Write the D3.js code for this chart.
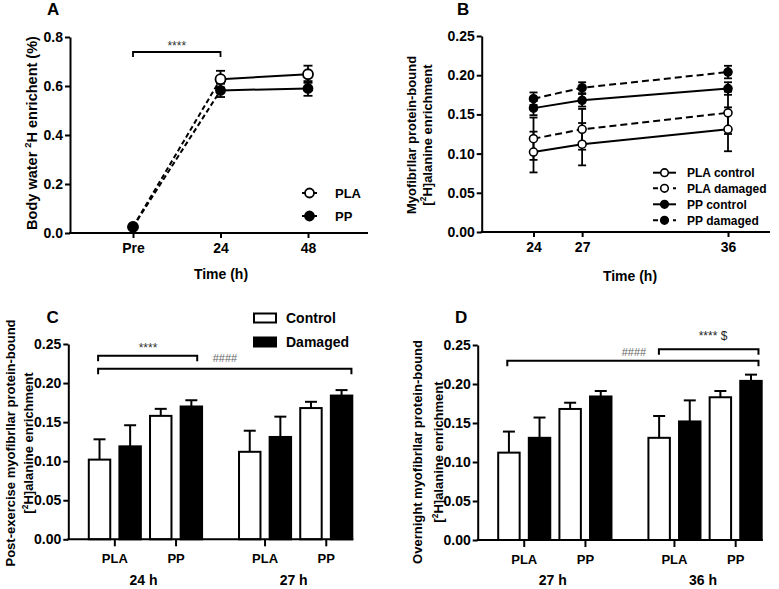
<!DOCTYPE html>
<html><head><meta charset="utf-8">
<script src="https://cdn.jsdelivr.net/npm/d3@7"></script>
<style>
body{margin:0;background:#fff;}
svg{display:block;font-family:"Liberation Sans",Arial,sans-serif;font-weight:bold;}
</style></head><body>
<svg id="chart" width="779" height="589"></svg>
<script>
// ---------- data ----------
const timepointsA = ["Pre", "24", "48"];
const plaWater = [0.025, 0.628, 0.648];
const plaWaterSem = [0.006, 0.034, 0.035];
const ppWater = [0.025, 0.582, 0.590];
const ppWaterSem = [0.006, 0.027, 0.030];
const yTicksA = [0, 0.2, 0.4, 0.6, 0.8];

const hours = [24, 27, 36];
const plaControl = [0.102, 0.112, 0.131];
const plaDamaged = [0.119, 0.131, 0.152];
const ppControl = [0.158, 0.168, 0.183];
const ppDamaged = [0.170, 0.184, 0.204];
const plaControlSem = [0.026, 0.027, 0.028];
const plaDamagedSem = [0.027, 0.026, 0.027];
const ppControlSem = [0.009, 0.008, 0.008];
const ppDamagedSem = [0.008, 0.007, 0.008];
const yTicksMyo = [0, 0.05, 0.10, 0.15, 0.20, 0.25];
const supplements = ["PLA", "PP"];
const conditions = ["Control", "Damaged"];

const svg = d3.select("#chart");

function styleAxis(g, fs) {
  g.selectAll(".domain").attr("stroke", "#000").attr("stroke-width", 2);
  g.selectAll(".tick line").attr("stroke", "#000").attr("stroke-width", 2);
  g.selectAll(".tick text").attr("fill", "#000").attr("font-size", fs)
    .attr("font-weight", "bold").attr("font-family", "Liberation Sans, Arial, sans-serif");
}
function letter(t, x, y) {
  svg.append("text").attr("x", x).attr("y", y).attr("font-size", 17).text(t);
}
function rotTitle(lines, cy) {
  lines.forEach(l => {
    const t = svg.append("text").attr("transform", `translate(${l.x},${cy}) rotate(-90)`)
      .attr("text-anchor", "middle").attr("font-size", l.fs);
    l.parts.forEach(p => {
      const ts = t.append("tspan").text(p.t);
      if (p.sup) ts.attr("font-size", l.fs * 0.65).attr("dy", -l.fs * 0.4);
      if (p.after) ts.attr("dy", l.fs * 0.4);
    });
  });
}
function errBar(g, x, yA, yB, cap) {
  g.append("line").attr("x1", x).attr("x2", x).attr("y1", yA).attr("y2", yB);
  g.append("line").attr("x1", x - cap / 2).attr("x2", x + cap / 2).attr("y1", yA).attr("y2", yA);
  g.append("line").attr("x1", x - cap / 2).attr("x2", x + cap / 2).attr("y1", yB).attr("y2", yB);
}

// ---------- Panel A ----------
(function () {
  const yA = d3.scaleLinear().domain([0, 0.8]).range([233, 37]);
  const xA = d3.scalePoint().domain(timepointsA).range([133, 308]);
  const gy = svg.append("g").attr("transform", "translate(70,0)")
    .call(d3.axisLeft(yA).tickValues(yTicksA).tickFormat(d3.format(".1f")).tickSize(5).tickPadding(2).tickSizeOuter(0));
  styleAxis(gy, 14);
  const gx = svg.append("g").attr("transform", "translate(0,233)")
    .call(d3.axisBottom(xA).tickSize(5).tickPadding(5));
  gx.select(".domain").remove();
  styleAxis(gx, 14);
  svg.append("line").attr("x1", 69).attr("x2", 368).attr("y1", 233).attr("y2", 233)
    .attr("stroke", "#000").attr("stroke-width", 2);

  const series = [
    { name: "PLA", vals: plaWater, sem: plaWaterSem, fill: "#fff" },
    { name: "PP", vals: ppWater, sem: ppWaterSem, fill: "#000" }
  ];
  const ge = svg.append("g").attr("stroke", "#000").attr("stroke-width", 1.8);
  series.forEach(s => s.vals.forEach((v, i) =>
    errBar(ge, xA(timepointsA[i]), yA(v + s.sem[i]), yA(v - s.sem[i]), 9)));
  const line = d3.line().x(d => xA(d.t)).y(d => yA(d.v));
  series.forEach(s => {
    const pts = s.vals.map((v, i) => ({ t: timepointsA[i], v }));
    svg.append("path").attr("d", line(pts.slice(0, 2))).attr("fill", "none")
      .attr("stroke", "#000").attr("stroke-width", 2).attr("stroke-dasharray", "5,3");
    svg.append("path").attr("d", line(pts.slice(1))).attr("fill", "none")
      .attr("stroke", "#000").attr("stroke-width", 2);
  });
  series.forEach(s => {
    svg.append("g").selectAll("circle").data(s.vals).join("circle")
      .attr("cx", (d, i) => xA(timepointsA[i])).attr("cy", d => yA(d)).attr("r", s.fill === "#000" ? 4.5 : 5)
      .attr("fill", s.fill).attr("stroke", "#000").attr("stroke-width", 1.8);
  });
  // legend
  [{ n: "PLA", f: "#fff", y: 193 }, { n: "PP", f: "#000", y: 216 }].forEach(l => {
    svg.append("line").attr("x1", 302).attr("x2", 317).attr("y1", l.y).attr("y2", l.y)
      .attr("stroke", "#000").attr("stroke-width", 2);
    svg.append("circle").attr("cx", 309.5).attr("cy", l.y).attr("r", 4.5)
      .attr("fill", l.f).attr("stroke", "#000").attr("stroke-width", 1.8);
    svg.append("text").attr("x", 335).attr("y", l.y + 5).attr("font-size", 13).text(l.n);
  });
  // bracket
  const bx1 = xA("Pre"), bx2 = xA("24");
  svg.append("path").attr("d", `M${bx1},57V52H${bx2}V57`).attr("fill", "none")
    .attr("stroke", "#000").attr("stroke-width", 1.8);
  svg.append("text").attr("x", (bx1 + bx2) / 2).attr("y", 50).attr("text-anchor", "middle")
    .attr("font-size", 12).attr("font-weight", "normal").attr("fill", "#333").text("****");
  svg.append("text").attr("x", 221).attr("y", 279).attr("text-anchor", "middle").attr("font-size", 14).text("Time (h)");
  rotTitle([{ x: 37, fs: 14.5, parts: [{ t: "Body water " }, { t: "2", sup: true }, { t: "H enrichent (%)", after: true }] }], 133);
  letter("A", 47, 15);
})();

// ---------- Panel B ----------
(function () {
  const yB = d3.scaleLinear().domain([0, 0.25]).range([232, 36]);
  const xB = d3.scaleLinear().domain([24, 36]).range([533.5, 728]);
  const gy = svg.append("g").attr("transform", "translate(481.7,0)")
    .call(d3.axisLeft(yB).tickValues(yTicksMyo).tickFormat(d3.format(".2f")).tickSize(5).tickPadding(2).tickSizeOuter(0));
  styleAxis(gy, 14);
  const gx = svg.append("g").attr("transform", "translate(0,232)")
    .call(d3.axisBottom(xB).tickValues(hours).tickSize(5).tickPadding(5));
  gx.select(".domain").remove();
  styleAxis(gx, 14);
  svg.append("line").attr("x1", 480.7).attr("x2", 770).attr("y1", 232).attr("y2", 232)
    .attr("stroke", "#000").attr("stroke-width", 2);

  const series = [
    { name: "PLA control", vals: plaControl, sem: plaControlSem, fill: "#fff", dash: null },
    { name: "PLA damaged", vals: plaDamaged, sem: plaDamagedSem, fill: "#fff", dash: "7,4" },
    { name: "PP control", vals: ppControl, sem: ppControlSem, fill: "#000", dash: null },
    { name: "PP damaged", vals: ppDamaged, sem: ppDamagedSem, fill: "#000", dash: "7,4" }
  ];
  const ge = svg.append("g").attr("stroke", "#000").attr("stroke-width", 1.8);
  series.forEach(s => s.vals.forEach((v, i) =>
    errBar(ge, xB(hours[i]), yB(v + s.sem[i]), yB(v - s.sem[i]), 8)));
  const line = d3.line().x((d, i) => xB(hours[i])).y(d => yB(d));
  series.forEach(s => {
    svg.append("path").attr("d", line(s.vals)).attr("fill", "none").attr("stroke", "#000")
      .attr("stroke-width", 2).attr("stroke-dasharray", s.dash);
  });
  series.forEach(s => {
    svg.append("g").selectAll("circle").data(s.vals).join("circle")
      .attr("cx", (d, i) => xB(hours[i])).attr("cy", d => yB(d)).attr("r", 4)
      .attr("fill", s.fill).attr("stroke", "#000").attr("stroke-width", 1.6);
  });
  const ly = [172.7, 188.3, 204.3, 220.3];
  series.forEach((s, i) => {
    svg.append("line").attr("x1", 653).attr("x2", 676).attr("y1", ly[i]).attr("y2", ly[i])
      .attr("stroke", "#000").attr("stroke-width", 2).attr("stroke-dasharray", s.dash ? "5,5" : null);
    svg.append("circle").attr("cx", 664.5).attr("cy", ly[i]).attr("r", 3.8)
      .attr("fill", s.fill).attr("stroke", "#000").attr("stroke-width", 1.6);
    svg.append("text").attr("x", 687).attr("y", ly[i] + 4.3).attr("font-size", 12).text(s.name);
  });
  svg.append("text").attr("x", 630).attr("y", 281).attr("text-anchor", "middle").attr("font-size", 14).text("Time (h)");
  rotTitle([
    { x: 416, fs: 13, parts: [{ t: "Myofibrllar protein-bound" }] },
    { x: 431.5, fs: 13, parts: [{ t: "[" }, { t: "2", sup: true }, { t: "H]alanine enrichment", after: true }] }
  ], 135);
  letter("B", 457, 15);
})();

// ---------- Panels C & D ----------
const lookup = {
  PLA: { Control: [plaControl, plaControlSem], Damaged: [plaDamaged, plaDamagedSem] },
  PP: { Control: [ppControl, ppControlSem], Damaged: [ppDamaged, ppDamagedSem] }
};
function barPanel(cfg) {
  const y = d3.scaleLinear().domain([0, 0.25]).range([cfg.y0, cfg.y1]);
  const groups = cfg.tp.map(i => hours[i]);
  const outer = d3.scaleBand().domain(groups).range([cfg.ax + 19.5, cfg.ax + 285]).paddingInner(0.2326).paddingOuter(0);
  const keys = [];
  supplements.forEach(s => conditions.forEach(c => keys.push(s + "-" + c)));
  const inner = d3.scaleBand().domain(keys).range([0, outer.bandwidth()]).paddingInner(0.234).paddingOuter(0);
  const bw = inner.bandwidth();
  const bars = [];
  cfg.tp.forEach(ti => supplements.forEach(s => conditions.forEach(c => {
    bars.push({ h: hours[ti], key: s + "-" + c, cond: c, v: lookup[s][c][0][ti], e: lookup[s][c][1][ti] });
  })));
  const bx = d => outer(d.h) + inner(d.key);
  // error bars (upward)
  const ge = svg.append("g").attr("stroke", "#000").attr("stroke-width", 2);
  bars.forEach(d => {
    const cx = bx(d) + bw / 2;
    ge.append("line").attr("x1", cx).attr("x2", cx).attr("y1", y(d.v)).attr("y2", y(d.v + d.e));
    ge.append("line").attr("x1", cx - 6).attr("x2", cx + 6).attr("y1", y(d.v + d.e)).attr("y2", y(d.v + d.e));
  });
  svg.append("g").selectAll("rect").data(bars).join("rect")
    .attr("x", d => bx(d) + 1).attr("y", d => y(d.v)).attr("width", bw - 2).attr("height", d => y(0) - y(d.v))
    .attr("fill", d => d.cond === "Control" ? "#fff" : "#000").attr("stroke", "#000").attr("stroke-width", 2);
  // axes
  const gy = svg.append("g").attr("transform", `translate(${cfg.ax},0)`)
    .call(d3.axisLeft(y).tickValues(yTicksMyo).tickFormat(d3.format(".2f")).tickSize(5).tickPadding(2).tickSizeOuter(0));
  styleAxis(gy, 14);
  svg.append("line").attr("x1", cfg.ax - 1).attr("x2", cfg.ax + 285).attr("y1", cfg.y0).attr("y2", cfg.y0)
    .attr("stroke", "#000").attr("stroke-width", 2);
  const cats = [];
  groups.forEach(h => supplements.forEach(s => {
    const x = outer(h) + (inner(s + "-Control") + inner(s + "-Damaged") + bw) / 2;
    cats.push({ x, s });
  }));
  svg.append("g").selectAll("line").data(cats).join("line")
    .attr("x1", d => d.x).attr("x2", d => d.x).attr("y1", cfg.y0).attr("y2", cfg.y0 + 7)
    .attr("stroke", "#000").attr("stroke-width", 2);
  svg.append("g").selectAll("text").data(cats).join("text")
    .attr("x", d => d.x).attr("y", cfg.y0 + 23.7).attr("text-anchor", "middle").attr("font-size", 13).text(d => d.s);
  svg.append("g").selectAll("text").data(groups).join("text")
    .attr("x", h => outer(h) + outer.bandwidth() / 2 - 2).attr("y", 585).attr("text-anchor", "middle")
    .attr("font-size", 14).text(h => h + " h");
  // brackets
  cfg.brackets.forEach(b => {
    const x1 = outer(hours[b.from[0]]) + inner(b.from[1]) + bw * b.from[2];
    const x2 = outer(hours[b.to[0]]) + inner(b.to[1]) + bw * b.to[2];
    svg.append("path").attr("d", `M${x1},${b.y + 5.5}V${b.y}H${x2}V${b.y + 5.5}`).attr("fill", "none")
      .attr("stroke", "#000").attr("stroke-width", 2);
  });
  cfg.notes.forEach(n => {
    svg.append("text").attr("x", n.x).attr("y", n.y).attr("text-anchor", "middle").attr("font-weight", "normal")
      .attr("font-size", n.fs).attr("fill", n.c).text(n.t);
  });
  rotTitle(cfg.titles, cfg.ty);
  letter(cfg.letter, cfg.lx, 323);
}

barPanel({
  ax: 68.3, y0: 539.3, y1: 344, tp: [0, 1], letter: "C", lx: 46.5, ty: 443,
  titles: [
    { x: 14.5, fs: 13, parts: [{ t: "Post-exercise myofibrllar protein-bound" }] },
    { x: 33, fs: 13, parts: [{ t: "[" }, { t: "2", sup: true }, { t: "H]alanine enrichment", after: true }] }
  ],
  brackets: [
    { from: [0, "PLA-Control", 0.44], to: [0, "PP-Damaged", 0.75], y: 355.7 },
    { from: [0, "PLA-Control", 0.44], to: [1, "PP-Damaged", 0.92], y: 368.7 }
  ],
  notes: [
    { t: "****", x: 148, y: 352, fs: 12, c: "#333" },
    { t: "####", x: 225, y: 362, fs: 11, c: "#666" }
  ]
});
barPanel({
  ax: 477.7, y0: 540, y1: 345, tp: [1, 2], letter: "D", lx: 455, ty: 452,
  titles: [
    { x: 422, fs: 13, parts: [{ t: "Overnight myofibrllar protein-bound" }] },
    { x: 443, fs: 13, parts: [{ t: "[" }, { t: "2", sup: true }, { t: "H]alanine enrichment", after: true }] }
  ],
  brackets: [
    { from: [1, "PLA-Control", 0.43], to: [2, "PP-Damaged", 0.82], y: 360.7 },
    { from: [2, "PLA-Control", 0.49], to: [2, "PP-Damaged", 0.82], y: 349.3 }
  ],
  notes: [
    { t: "####", x: 634, y: 355.5, fs: 11, c: "#666" },
    { t: "**** $", x: 713, y: 339.5, fs: 12, c: "#222" }
  ]
});

// legend C
[{ n: "Control", f: "#fff", y: 313.5 }, { n: "Damaged", f: "#000", y: 337.5 }].forEach(l => {
  svg.append("rect").attr("x", 254).attr("y", l.y).attr("width", 22).attr("height", 9)
    .attr("fill", l.f).attr("stroke", "#000").attr("stroke-width", 2);
  svg.append("text").attr("x", 286).attr("y", l.y + 9.5).attr("font-size", 14).text(l.n);
});
</script>
</body></html>
